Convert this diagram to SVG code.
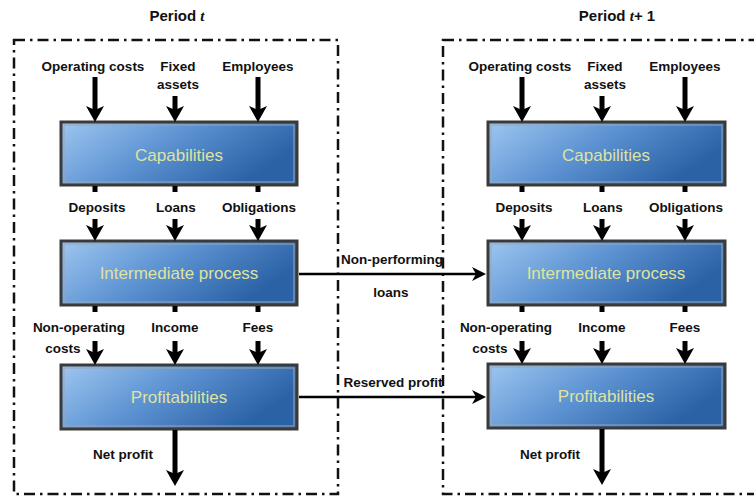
<svg xmlns="http://www.w3.org/2000/svg" width="754" height="498" viewBox="0 0 754 498">
<style>
.lbl{font-family:"Liberation Sans",Arial,sans-serif;font-weight:bold;font-size:13.5px;fill:#111;text-anchor:middle}
.ttl{font-family:"Liberation Sans",Arial,sans-serif;font-weight:bold;font-size:15px;fill:#111;text-anchor:middle}
.it{font-family:"Liberation Serif","Times New Roman",serif;font-style:italic;font-weight:bold}
.box{fill:url(#g);stroke:#3a3a3a;stroke-width:3}
.inner{fill:none;stroke:#9aa6b4;stroke-width:1}
.btxt{font-family:"Liberation Sans",Arial,sans-serif;font-size:17px;fill:#dfe3a0;text-anchor:middle}
.frame{fill:none;stroke:#111;stroke-width:2.5;stroke-dasharray:11 5 2.5 5}
.thick{stroke:#000;stroke-width:5;fill:none;marker-end:url(#ah)}
.stub{stroke:#000;stroke-width:5;fill:none}
.thin{stroke:#000;stroke-width:2.5;fill:none;marker-end:url(#ah2)}
</style>
<defs>
<linearGradient id="g" x1="0" y1="0" x2="1" y2="0.4">
<stop offset="0" stop-color="#9ec6f0"/>
<stop offset="0.5" stop-color="#5d93d2"/>
<stop offset="1" stop-color="#2b62a6"/>
</linearGradient>
<marker id="ah" markerUnits="userSpaceOnUse" markerWidth="16" markerHeight="18" viewBox="0 0 16 18" refX="4" refY="9" orient="auto">
<path d="M0,0 L16,9 L0,18 L4,9 z" fill="#000"/>
</marker>
<marker id="ah2" markerUnits="userSpaceOnUse" markerWidth="14" markerHeight="14" viewBox="0 0 14 14" refX="4" refY="7" orient="auto">
<path d="M0,0 L14,7 L0,14 L4,7 z" fill="#000"/>
</marker>
</defs>
<rect width="754" height="498" fill="#fff"/>
<g id="titles">
<text class="ttl" x="177" y="21">Period <tspan class="it">t</tspan></text>
<text class="ttl" x="617" y="21">Period <tspan class="it">t</tspan>+ 1</text>
</g>
<g id="frames">
<rect class="frame" x="14" y="40" width="324" height="454"/>
<rect class="frame" x="443" y="40" width="330" height="454"/>
</g>
<g id="cap-t"><rect class="box" x="61" y="122" width="236" height="63"/><rect class="inner" x="64" y="125" width="230" height="57"/><text class="btxt" x="179" y="161">Capabilities</text></g>
<g id="int-t"><rect class="box" x="61" y="241" width="236" height="64"/><rect class="inner" x="64" y="244" width="230" height="58"/><text class="btxt" x="179" y="279">Intermediate process</text></g>
<g id="prof-t"><rect class="box" x="61" y="365" width="236" height="64"/><rect class="inner" x="64" y="368" width="230" height="58"/><text class="btxt" x="179" y="403">Profitabilities</text></g>
<g id="cap-t1"><rect class="box" x="488" y="122" width="237" height="63"/><rect class="inner" x="491" y="125" width="231" height="57"/><text class="btxt" x="606" y="161">Capabilities</text></g>
<g id="int-t1"><rect class="box" x="488" y="241" width="237" height="64"/><rect class="inner" x="491" y="244" width="231" height="58"/><text class="btxt" x="606" y="279">Intermediate process</text></g>
<g id="prof-t1"><rect class="box" x="488" y="364" width="237" height="64"/><rect class="inner" x="491" y="367" width="231" height="58"/><text class="btxt" x="606" y="402">Profitabilities</text></g>
<g id="labels">
<text class="lbl" x="93" y="71">Operating costs</text>
<text class="lbl" x="178" y="71">Fixed</text>
<text class="lbl" x="178" y="89">assets</text>
<text class="lbl" x="258" y="71">Employees</text>
<text class="lbl" x="97" y="212">Deposits</text>
<text class="lbl" x="176" y="212">Loans</text>
<text class="lbl" x="259" y="212">Obligations</text>
<text class="lbl" x="79" y="332">Non-operating</text>
<text class="lbl" x="63" y="353">costs</text>
<text class="lbl" x="175" y="332">Income</text>
<text class="lbl" x="258" y="332">Fees</text>
<text class="lbl" x="123" y="459">Net profit</text>
<text class="lbl" x="520" y="71">Operating costs</text>
<text class="lbl" x="605" y="71">Fixed</text>
<text class="lbl" x="605" y="89">assets</text>
<text class="lbl" x="685" y="71">Employees</text>
<text class="lbl" x="524" y="212">Deposits</text>
<text class="lbl" x="603" y="212">Loans</text>
<text class="lbl" x="686" y="212">Obligations</text>
<text class="lbl" x="506" y="332">Non-operating</text>
<text class="lbl" x="490" y="353">costs</text>
<text class="lbl" x="602" y="332">Income</text>
<text class="lbl" x="685" y="332">Fees</text>
<text class="lbl" x="550" y="459">Net profit</text>
<text class="lbl" x="392" y="264">Non-performing</text>
<text class="lbl" x="391" y="297">loans</text>
<text class="lbl" x="393" y="387">Reserved profit</text>
</g>
<g id="connectors">
<line class="thick" x1="95" y1="77" x2="95" y2="110"/>
<line class="thick" x1="175" y1="96" x2="175" y2="110"/>
<line class="thick" x1="258" y1="77" x2="258" y2="110"/>
<line class="stub" x1="95" y1="186" x2="95" y2="192"/>
<line class="stub" x1="175" y1="186" x2="175" y2="192"/>
<line class="stub" x1="258" y1="186" x2="258" y2="192"/>
<line class="thick" x1="95" y1="219" x2="95" y2="229"/>
<line class="thick" x1="175" y1="219" x2="175" y2="229"/>
<line class="thick" x1="258" y1="219" x2="258" y2="229"/>
<line class="stub" x1="95" y1="306" x2="95" y2="312"/>
<line class="stub" x1="175" y1="306" x2="175" y2="312"/>
<line class="stub" x1="258" y1="306" x2="258" y2="312"/>
<line class="thick" x1="95" y1="341" x2="95" y2="353"/>
<line class="thick" x1="175" y1="341" x2="175" y2="353"/>
<line class="thick" x1="258" y1="341" x2="258" y2="353"/>
<line class="thick" x1="175" y1="430" x2="175" y2="474"/>
<line class="thick" x1="522" y1="77" x2="522" y2="110"/>
<line class="thick" x1="602" y1="96" x2="602" y2="110"/>
<line class="thick" x1="685" y1="77" x2="685" y2="110"/>
<line class="stub" x1="522" y1="186" x2="522" y2="192"/>
<line class="stub" x1="602" y1="186" x2="602" y2="192"/>
<line class="stub" x1="685" y1="186" x2="685" y2="192"/>
<line class="thick" x1="522" y1="219" x2="522" y2="229"/>
<line class="thick" x1="602" y1="219" x2="602" y2="229"/>
<line class="thick" x1="685" y1="219" x2="685" y2="229"/>
<line class="stub" x1="522" y1="306" x2="522" y2="312"/>
<line class="stub" x1="602" y1="306" x2="602" y2="312"/>
<line class="stub" x1="685" y1="306" x2="685" y2="312"/>
<line class="thick" x1="522" y1="341" x2="522" y2="352"/>
<line class="thick" x1="602" y1="341" x2="602" y2="352"/>
<line class="thick" x1="685" y1="341" x2="685" y2="352"/>
<line class="thick" x1="602" y1="429" x2="602" y2="473"/>
<line class="thin" x1="299" y1="274" x2="476" y2="274"/>
<line class="thin" x1="299" y1="397" x2="476" y2="397"/>
</g>
</svg>
